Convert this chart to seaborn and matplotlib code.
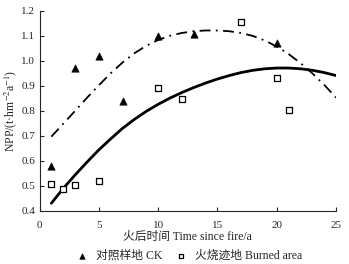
import numpy as np
import pandas as pd
import seaborn as sns
import matplotlib.pyplot as plt

# 对照样地 CK (triangles)
ck_year = [1, 3, 5, 7, 10, 13, 20]
ck_npp = [0.58, 0.97, 1.018, 0.84, 1.098, 1.105, 1.069]

# 火烧迹地 Burned area (squares)
burn_year = [1, 2, 3, 5, 10, 12, 17, 20, 21]
burn_npp = [0.509, 0.489, 0.504, 0.518, 0.892, 0.847, 1.154, 0.93, 0.803]

# trend curves
curve_x = list(range(1, 26))
ck_curve = [0.697, 0.748, 0.800, 0.852, 0.902, 0.950, 0.993, 1.030, 1.060, 1.083,
            1.100, 1.111, 1.118, 1.121, 1.121, 1.118, 1.111, 1.099, 1.081, 1.057,
            1.027, 0.991, 0.950, 0.904, 0.853]
burn_curve = [0.431, 0.49, 0.544, 0.595, 0.644, 0.688, 0.73, 0.766, 0.798, 0.826,
              0.851, 0.873, 0.893, 0.911, 0.927, 0.941, 0.953, 0.962, 0.968, 0.971,
              0.971, 0.968, 0.962, 0.953, 0.941]

sns.set_style("ticks")
plt.rcParams['font.family'] = ['Liberation Serif', 'Noto Sans CJK SC']
plt.rcParams['xtick.direction'] = 'in'
plt.rcParams['ytick.direction'] = 'in'
plt.rcParams['mathtext.fontset'] = 'stix'

fig = plt.figure(figsize=(3.49, 2.64), dpi=100)
ax = fig.add_axes([39.5/349, 1-211/264, (336-39.5)/349, (211-10.7)/264])

sns.lineplot(x=curve_x, y=ck_curve, ax=ax, color='black', lw=1.3,
             linestyle=(0, (6, 3, 1, 3)))
sns.lineplot(x=curve_x, y=burn_curve, ax=ax, color='black', lw=2.0)

sns.scatterplot(x=ck_year, y=ck_npp, ax=ax, marker='^', color='black',
                s=28, edgecolor='black', label='对照样地 CK', zorder=3)
sns.scatterplot(x=burn_year, y=burn_npp, ax=ax, marker='s', facecolor='white',
                s=14, edgecolor='black', linewidth=0.9, label='火烧迹地 Burned area', zorder=3)

ax.set_xlim(0, 25)
ax.set_ylim(0.4, 1.2)
ax.set_xticks([0, 5, 10, 15, 20, 25])
ax.set_yticks(np.arange(0.4, 1.21, 0.1))
ax.set_yticklabels(['%.1f' % v for v in np.arange(0.4, 1.21, 0.1)])
ax.tick_params(labelsize=8, length=3, width=0.8, pad=3)
ax.tick_params(axis='x', pad=7)
for s in ['left', 'bottom']:
    ax.spines[s].set_linewidth(0.8)
sns.despine(ax=ax)

ax.set_xlabel('火后时间 Time since fire/a', fontsize=8.5, labelpad=1)
ax.set_ylabel('NPP/(t·hm$^{-2}$a$^{-1}$)', fontsize=8.5, labelpad=2)

ax.legend(loc='upper center', bbox_to_anchor=(0.495, -0.14), ncol=2, frameon=False,
          fontsize=8.5, handletextpad=0.2, columnspacing=0.6, markerscale=0.75)

plt.savefig('out.png', dpi=100)
